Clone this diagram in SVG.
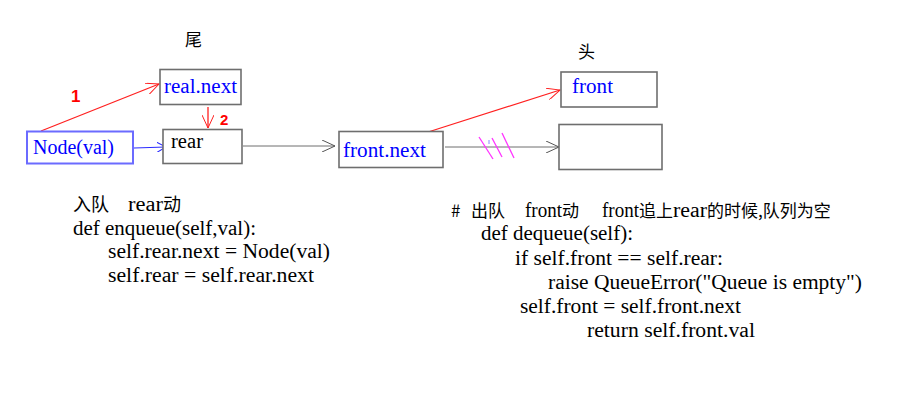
<svg xmlns="http://www.w3.org/2000/svg" width="899" height="405" viewBox="0 0 899 405">
<style>
.box{fill:#fff;stroke:#6e6e6e;stroke-width:1.6}
.lbl{font-family:"Liberation Serif","Times New Roman",serif;font-size:20px;fill:#0000ff}
.code{font-family:"Liberation Serif","Times New Roman","Noto Sans CJK SC",serif;font-size:20px;fill:#000}
.cjk{font-family:"Noto Sans CJK SC",sans-serif;font-size:17px;fill:#000}
.cjkl{font-family:"Noto Sans CJK SC",sans-serif;font-size:18px;fill:#000}
.num{font-family:"Liberation Sans",Arial,sans-serif;font-weight:bold;fill:#ff0000}
.red{stroke:#ff2020;stroke-width:1.3;fill:none}
.gray{stroke:#6e6e6e;stroke-width:1;fill:none}
.blue{stroke:#2b2bff;stroke-width:1.2;fill:none}
.mag{stroke:#ff33ff;stroke-width:1.3;fill:none}
</style>
<defs>
<marker id="ar" markerUnits="userSpaceOnUse" viewBox="0 0 14 12" refX="13" refY="6" markerWidth="14" markerHeight="12" orient="auto"><path d="M0,0 L13,6 L0,12" fill="none" stroke="#ff2020" stroke-width="1"/></marker>
<marker id="ag" markerUnits="userSpaceOnUse" viewBox="0 0 14 12" refX="13" refY="6" markerWidth="14" markerHeight="12" orient="auto"><path d="M0,0 L13,6 L0,12" fill="none" stroke="#555" stroke-width="1"/></marker>
<marker id="ab" markerUnits="userSpaceOnUse" viewBox="0 0 10 10" refX="9" refY="5" markerWidth="10" markerHeight="10" orient="auto"><path d="M0,0 L9,5 L0,10" fill="none" stroke="#2b2bff" stroke-width="1"/></marker>
</defs>
<rect width="899" height="405" fill="#fff"/>
<g id="connectors">
<line class="red" x1="41" y1="131" x2="159" y2="84" marker-end="url(#ar)"/>
<line class="red" x1="208" y1="107" x2="208" y2="128" marker-end="url(#ar)"/>
<line class="blue" x1="134" y1="148" x2="166" y2="147" marker-end="url(#ab)"/>
<line class="gray" x1="243" y1="146" x2="335" y2="146" marker-end="url(#ag)"/>
<line class="red" x1="425" y1="133" x2="560" y2="90" marker-end="url(#ar)"/>
<line class="gray" x1="445" y1="147" x2="559" y2="147" marker-end="url(#ag)"/>
<g id="cut-marks">
<line class="mag" x1="479" y1="137" x2="493" y2="159"/>
<line class="mag" x1="492" y1="138" x2="502" y2="157"/>
<line class="mag" x1="502" y1="133" x2="514" y2="158"/>
<line stroke="#8888ff" stroke-width="1" x1="489" y1="140" x2="489" y2="144"/>
</g>
</g>
<g id="label-tail"><text class="cjk" x="185" y="46">尾</text></g>
<g id="label-head"><text class="cjk" x="578" y="58">头</text></g>
<g id="num1"><text class="num" font-size="17" x="71" y="102">1</text></g>
<g id="num2"><text class="num" font-size="15" x="220" y="125">2</text></g>
<g id="node-real-next">
<rect class="box" x="160" y="69.5" width="81" height="35"/>
<text class="lbl" x="164" y="93" textLength="73" lengthAdjust="spacingAndGlyphs">real.next</text>
</g>
<g id="node-rear">
<rect class="box" x="163" y="129.5" width="79" height="34"/>
<text class="code" x="171" y="148" textLength="32" lengthAdjust="spacingAndGlyphs">rear</text>
</g>
<g id="node-val">
<rect x="27" y="131.5" width="106" height="32" fill="#fff" stroke="#6b6bff" stroke-width="2"/>
<text class="lbl" x="33" y="154" textLength="81" lengthAdjust="spacingAndGlyphs">Node(val)</text>
</g>
<g id="node-front-next">
<rect class="box" x="339" y="131.5" width="104" height="36"/>
<text class="lbl" x="343" y="157" textLength="83" lengthAdjust="spacingAndGlyphs">front.next</text>
</g>
<g id="node-front">
<rect class="box" x="561" y="72" width="96" height="35"/>
<text class="lbl" x="572" y="93" textLength="41" lengthAdjust="spacingAndGlyphs">front</text>
</g>
<g id="node-empty">
<rect class="box" x="559" y="124.5" width="103" height="45"/>
</g>
<g id="enqueue-code">
<text class="cjkl" x="73" y="211">入队</text>
<text class="code" x="128" y="211" textLength="35" lengthAdjust="spacingAndGlyphs">rear</text>
<text class="cjkl" x="163" y="211">动</text>
<text class="code" x="73" y="235" textLength="183" lengthAdjust="spacingAndGlyphs">def enqueue(self,val):</text>
<text class="code" x="108" y="258" textLength="222" lengthAdjust="spacingAndGlyphs">self.rear.next = Node(val)</text>
<text class="code" x="108" y="282" textLength="206" lengthAdjust="spacingAndGlyphs">self.rear = self.rear.next</text>
</g>
<g id="dequeue-code">
<text class="cjk" x="451" y="217">#</text>
<text class="cjk" x="471" y="217">出队</text>
<text class="code" x="525" y="217" textLength="37" lengthAdjust="spacingAndGlyphs">front</text>
<text class="cjk" x="562" y="217">动</text>
<text class="code" x="602" y="217" textLength="37" lengthAdjust="spacingAndGlyphs">front</text>
<text class="cjk" x="639" y="217">追上</text>
<text class="code" x="673" y="217" textLength="34" lengthAdjust="spacingAndGlyphs">rear</text>
<text class="cjk" x="707" y="217">的时候,队列为空</text>
<text class="code" x="481" y="240" textLength="152" lengthAdjust="spacingAndGlyphs">def dequeue(self):</text>
<text class="code" x="515" y="265" textLength="208" lengthAdjust="spacingAndGlyphs">if self.front == self.rear:</text>
<text class="code" x="548" y="289" textLength="314" lengthAdjust="spacingAndGlyphs">raise QueueError("Queue is empty")</text>
<text class="code" x="520" y="313" textLength="221" lengthAdjust="spacingAndGlyphs">self.front = self.front.next</text>
<text class="code" x="587" y="337" textLength="168" lengthAdjust="spacingAndGlyphs">return self.front.val</text>
</g>
</svg>
